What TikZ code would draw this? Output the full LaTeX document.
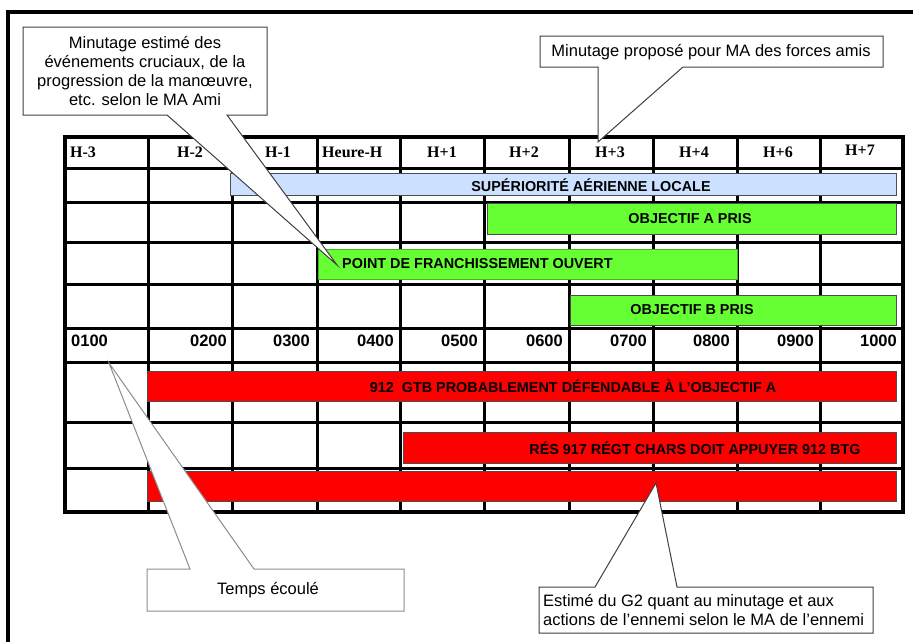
\documentclass[tikz,border=0pt]{standalone}
\usepackage{fontspec}
\setmainfont{Liberation Sans}
\newfontfamily\hdrfont{Liberation Serif}
\definecolor{airblue}{HTML}{CCE0FF}
\definecolor{friendgreen}{HTML}{66FF33}
\definecolor{enemyred}{HTML}{FF0000}
\definecolor{notegray}{HTML}{404040}

\tikzset{
  gridline/.style={line width=3pt},
  framebox/.style={line width=4pt},
  hdr/.style={font=\hdrfont\bfseries\fontsize{16}{16}\selectfont, inner sep=0pt},
  tim/.style={font=\bfseries\fontsize{16.5}{16.5}\selectfont, inner sep=0pt},
  bartxt/.style={font=\bfseries\fontsize{14.4}{14.4}\selectfont, inner sep=0pt},
  bar/.style={draw=black!70, line width=0.8pt},
  note/.style={draw=notegray, fill=white, line width=1pt, line join=miter},
  notetxt/.style={font=\fontsize{16.5}{19}\selectfont, inner sep=0pt, align=center},
}

\begin{document}
\begin{tikzpicture}[x=1pt,y=-1pt]
\useasboundingbox (0,0) rectangle (913,641);
\clip (0,0) rectangle (913,641);
\fill[white] (0,0) rectangle (913,641);

% page frame (runs off the right and bottom)
\draw[framebox] (8,700) -- (8,12) -- (960,12);

% timeline grid
\foreach \x in {148,232,317,400,484,569,653,737,820}
  \draw[gridline] (\x,137) -- (\x,512);
\foreach \y in {168,202,242,284,328,362,422,468}
  \draw[gridline] (65,\y) -- (903,\y);
\draw[framebox] (65,137) rectangle (903,512);

% header: hours
\node[hdr, anchor=west] (hm3) at (70,152) {H-3};
\node[hdr] (hm2) at (190,152) {H-2};
\node[hdr] (hm1) at (278,152) {H-1};
\node[hdr, anchor=west] (h0) at (322,152) {Heure-H};
\node[hdr] (hp1) at (442,152) {H+1};
\node[hdr] (hp2) at (524,152) {H+2};
\node[hdr] (hp3) at (610,152) {H+3};
\node[hdr] (hp4) at (694,152) {H+4};
\node[hdr] (hp6) at (778,152) {H+6};
\node[hdr] (hp7) at (860,150) {H+7};

% friendly activities
\draw[bar, fill=airblue] (230,173) rectangle (896,195);
\node[bartxt] (air) at (591,185) {SUPÉRIORITÉ AÉRIENNE LOCALE};
\draw[bar, fill=friendgreen] (487,203) rectangle (896,234);
\node[bartxt] (obja) at (690,219) {OBJECTIF A PRIS};
\draw[bar, draw=friendgreen!70!black, fill=friendgreen] (318,249) rectangle (737,279);
\node[bartxt, anchor=west] (cross) at (342,264) {POINT DE FRANCHISSEMENT OUVERT};
\draw[bar, fill=friendgreen] (570,295) rectangle (896,325);
\node[bartxt] (objb) at (692,310) {OBJECTIF B PRIS};

% clock times
\node[tim, anchor=west] (t01) at (71,341) {0100};
\node[tim, anchor=east] (t02) at (227,341) {0200};
\node[tim, anchor=east] (t03) at (310,341) {0300};
\node[tim, anchor=east] (t04) at (394,341) {0400};
\node[tim, anchor=east] (t05) at (478,341) {0500};
\node[tim, anchor=east] (t06) at (563,341) {0600};
\node[tim, anchor=east] (t07) at (647,341) {0700};
\node[tim, anchor=east] (t08) at (730,341) {0800};
\node[tim, anchor=east] (t09) at (814,341) {0900};
\node[tim, anchor=east] (t10) at (897,341) {1000};

% enemy activities
\draw[bar, fill=enemyred] (147,371) rectangle (896,401);
\node[bartxt] (def) at (573,386) {912\ \ GTB PROBABLEMENT DÉFENDABLE À L'OBJECTIF A};
\draw[bar, fill=enemyred] (403,432) rectangle (896,463);
\node[bartxt] (res) at (695,448) {RÉS 917 RÉGT CHARS DOIT APPUYER 912 BTG};
\draw[bar, fill=enemyred] (147,471) rectangle (896,501);

% callout tips
\coordinate (tipa) at (337,265);
\coordinate (tipb) at (598,142);
\coordinate (tipc) at (109,363);
\coordinate (tipd) at (656,483);

% callouts
\draw[note] (23,27) -- (267,27) -- (267,115) -- (227,115) -- (tipa) -- (167,115) -- (23,115) -- cycle;
\node[notetxt] (ca) at (145,71) {Minutage estimé des\\événements cruciaux, de la\\progression de la manœuvre,\\etc. selon le MA Ami};

\draw[note] (540,36) -- (883,36) -- (883,67) -- (683,67) -- (tipb) -- (598,67) -- (540,67) -- cycle;
\node[notetxt] (cb) at (711,52) {Minutage proposé pour MA des forces amis};

\draw[note, draw=black!45] (147,569) -- (190,569) -- (tipc) -- (254,569) -- (404,569) -- (404,611) -- (147,611) -- cycle;
\node[notetxt] (cc) at (268,590) {Temps écoulé};

\draw[note] (539,587) -- (595,587) -- (tipd) -- (677,587) -- (873,587) -- (873,633) -- (539,633) -- cycle;
\node[notetxt, align=left, anchor=west] (cd) at (543,610) {Estimé du G2 quant au minutage et aux\\actions de l'ennemi selon le MA de l'ennemi};
\end{tikzpicture}
\end{document}
